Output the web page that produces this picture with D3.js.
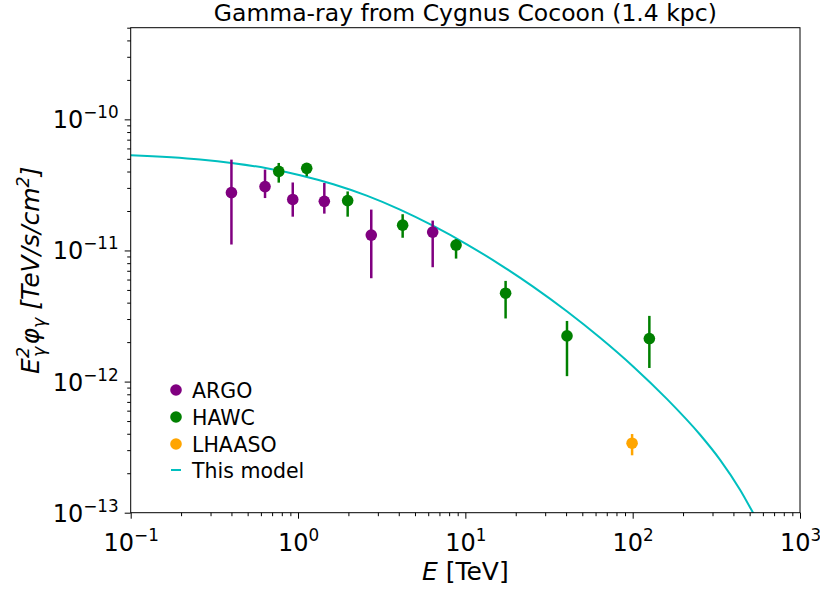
<!DOCTYPE html>
<html><head><meta charset="utf-8">
<script src="https://cdn.jsdelivr.net/npm/d3@7"></script>
<style>body{margin:0;background:#fff;} text{font-family:"DejaVu Sans",sans-serif;}</style>
</head><body>
<svg id="c" width="820" height="590"></svg>
<script>
// ---- data ----
const argoE   = [0.40, 0.635, 0.93, 1.436, 2.74, 6.38];
const argoV   = [2.76e-11, 3.07e-11, 2.45e-11, 2.37e-11, 1.31e-11, 1.38e-11];
const argoHi  = [4.93e-11, 4.14e-11, 3.30e-11, 3.27e-11, 2.05e-11, 1.69e-11];
const argoLo  = [1.11e-11, 2.51e-11, 1.81e-11, 1.91e-11, 6.14e-12, 7.45e-12];

const hawcE   = [0.767, 1.127, 1.98, 4.22, 8.80, 17.4, 40.5, 125.8];
const hawcV   = [4.01e-11, 4.23e-11, 2.40e-11, 1.56e-11, 1.10e-11, 4.72e-12, 2.23e-12, 2.13e-12];
const hawcHi  = [4.65e-11, 4.62e-11, 2.82e-11, 1.89e-11, 1.22e-11, 5.86e-12, 2.90e-12, 3.17e-12];
const hawcLo  = [3.29e-11, 3.68e-11, 1.81e-11, 1.25e-11, 8.67e-12, 3.03e-12, 1.10e-12, 1.27e-12];

const lhaasoE  = [99.2];
const lhaasoV  = [3.39e-13];
const lhaasoHi = [3.98e-13];
const lhaasoLo = [2.74e-13];

const modelE = [0.1, 0.2596, 0.4106, 0.650, 1.028, 1.626, 2.574, 4.07, 6.44, 10.2, 16.1, 25.5, 40.4, 63.9, 101, 160, 253, 333, 439, 524, 577];
const modelV = [5.32e-11, 4.94e-11, 4.63e-11, 4.24e-11, 3.75e-11, 3.20e-11, 2.62e-11, 2.05e-11, 1.54e-11, 1.115e-11, 7.81e-12, 5.28e-12, 3.44e-12, 2.16e-12, 1.30e-12, 7.38e-13, 3.93e-13, 2.53e-13, 1.49e-13, 1.00e-13, 8.04e-14];

const xTicks = [0.1, 1, 10, 100, 1000];
const xTickExp = ["−1", "0", "1", "2", "3"];
const yTicks = [1e-13, 1e-12, 1e-11, 1e-10];
const yTickExp = ["−13", "−12", "−11", "−10"];

const title = "Gamma-ray from Cygnus Cocoon (1.4 kpc)";
const legendNames = ["ARGO", "HAWC", "LHAASO", "This model"];
const colors = {ARGO:"#800080", HAWC:"#008000", LHAASO:"#FFA500", model:"#00BFBF"};

// ---- chart ----
const svg = d3.select("#c");
const L=130.7, R=800, T=27.7, B=512.7;
const x = d3.scaleLog().domain([0.1,1000]).range([L,R]);
const y = d3.scaleLog().domain([1e-13,5e-10]).range([B,T]);

function minors(lo, hi){ const r=[]; for(let e=lo;e<hi;e++) for(let k=2;k<=9;k++){ r.push(k*Math.pow(10,e)); } return r; }
const xMinor = minors(-1,3);
const yMinor = minors(-13,-9).filter(v=>v<=5e-10);

svg.append("clipPath").attr("id","clip").append("rect").attr("x",L).attr("y",T).attr("width",R-L).attr("height",B-T);

// model line
const line = d3.line().x((d,i)=>x(modelE[i])).y((d,i)=>y(modelV[i])).curve(d3.curveMonotoneX);
svg.append("path").datum(modelE).attr("d",line).attr("fill","none").attr("stroke",colors.model).attr("stroke-width",2).attr("clip-path","url(#clip)");

function series(E,V,Hi,Lo,col){
  const g = svg.append("g");
  g.selectAll("line").data(E).join("line")
    .attr("x1",d=>x(d)).attr("x2",d=>x(d))
    .attr("y1",(d,i)=>y(Hi[i])).attr("y2",(d,i)=>y(Lo[i]))
    .attr("stroke",col).attr("stroke-width",2.5);
  g.selectAll("circle").data(E).join("circle")
    .attr("cx",d=>x(d)).attr("cy",(d,i)=>y(V[i])).attr("r",5.8).attr("fill",col);
}
series(argoE,argoV,argoHi,argoLo,colors.ARGO);
series(hawcE,hawcV,hawcHi,hawcLo,colors.HAWC);
series(lhaasoE,lhaasoV,lhaasoHi,lhaasoLo,colors.LHAASO);

// axes
function styleAxis(g){ g.select(".domain").remove(); g.selectAll("line").attr("stroke","#000").attr("stroke-width",1); }
svg.append("g").attr("transform",`translate(0,${B})`).call(d3.axisBottom(x).tickValues(xMinor).tickSize(3.5).tickFormat("")).call(styleAxis);
svg.append("g").attr("transform",`translate(${L},0)`).call(d3.axisLeft(y).tickValues(yMinor).tickSize(3.5).tickFormat("")).call(styleAxis);
const xa = svg.append("g").attr("transform",`translate(0,${B})`).call(d3.axisBottom(x).tickValues(xTicks).tickSize(6).tickFormat("")).call(styleAxis);
const ya = svg.append("g").attr("transform",`translate(${L},0)`).call(d3.axisLeft(y).tickValues(yTicks).tickSize(6).tickFormat("")).call(styleAxis);

xa.selectAll(".tick").each(function(d,i){
  const t = d3.select(this).append("text").attr("y",38).attr("text-anchor","middle").attr("fill","#000").attr("font-size",24);
  t.append("tspan").text("10");
  t.append("tspan").attr("dy",-10).attr("font-size",16.8).text(xTickExp[i]);
});
ya.selectAll(".tick").each(function(d,i){
  const t = d3.select(this).append("text").attr("x",-12).attr("y",8.5).attr("text-anchor","end").attr("fill","#000").attr("font-size",24);
  t.append("tspan").text("10");
  t.append("tspan").attr("dy",-10).attr("font-size",16.8).text(yTickExp[i]);
});

// frame
svg.append("rect").attr("x",L).attr("y",T).attr("width",R-L).attr("height",B-T).attr("fill","none").attr("stroke","#000").attr("stroke-width",1);

// title
svg.append("text").attr("x",(L+R)/2).attr("y",21).attr("text-anchor","middle").attr("font-size",23.5).text(title);

// x label
const xl = svg.append("text").attr("x",(L+R)/2).attr("y",580).attr("text-anchor","middle").attr("font-size",25);
xl.append("tspan").attr("font-style","italic").text("E");
xl.append("tspan").text(" [TeV]");

// y label
const yl = svg.append("text").attr("transform",`translate(39,${(T+B)/2}) rotate(-90)`).attr("text-anchor","middle").attr("font-size",25).attr("font-style","italic");
yl.append("tspan").text("E");
yl.append("tspan").attr("font-size",17.5).attr("dy",-10).text("2");
yl.append("tspan").attr("font-size",17.5).attr("dx",-10).attr("dy",16).text("γ");
yl.append("tspan").attr("dx",2).attr("dy",-6).text("φ");
yl.append("tspan").attr("font-size",17.5).attr("dy",6).text("γ");
yl.append("tspan").attr("dy",-6).text(" [TeV/s/cm");
yl.append("tspan").attr("font-size",17.5).attr("dy",-10).text("2");
yl.append("tspan").attr("dy",10).text("]");

// legend
const lg = svg.append("g");
const legColors = [colors.ARGO, colors.HAWC, colors.LHAASO, colors.model];
const legY = [390, 417, 444, 470];
legendNames.forEach((n,i)=>{
  if(i<3) lg.append("circle").attr("cx",176).attr("cy",legY[i]).attr("r",5.8).attr("fill",legColors[i]);
  else lg.append("line").attr("x1",171).attr("x2",181).attr("y1",legY[i]).attr("y2",legY[i]).attr("stroke",legColors[i]).attr("stroke-width",2);
  lg.append("text").attr("x",192).attr("y",legY[i]+7.5).attr("font-size",20.5).text(n);
});
</script>
</body></html>
